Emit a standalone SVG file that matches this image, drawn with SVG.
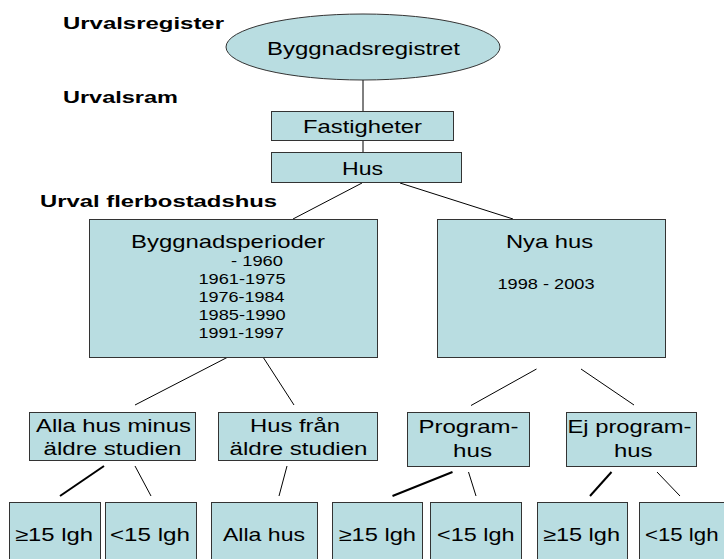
<svg xmlns="http://www.w3.org/2000/svg" width="724" height="559" viewBox="0 0 724 559">
<style>
text{font-family:"Liberation Sans",Arial,sans-serif;fill:#000}
.lbl{font-weight:bold;font-size:16.5px}
.n{font-size:18.5px}
.y{font-size:14.5px}
.box{fill:#b9dde1;stroke:#333;stroke-width:1}
.c{stroke:#000;stroke-width:1;fill:none}
.t{stroke:#000;stroke-width:2;fill:none}
</style>
<rect width="724" height="559" fill="#fff"/>
<g id="labels">
<text class="lbl" x="63" y="29" textLength="161" lengthAdjust="spacingAndGlyphs">Urvalsregister</text>
<text class="lbl" x="63" y="103" textLength="115" lengthAdjust="spacingAndGlyphs">Urvalsram</text>
<text class="lbl" x="40" y="206.5" textLength="237" lengthAdjust="spacingAndGlyphs">Urval flerbostadshus</text>
</g>
<g id="connectors">
<line class="c" x1="363" y1="80" x2="363" y2="111"/>
<line class="c" x1="363" y1="140" x2="363" y2="152"/>
<line class="c" x1="362" y1="183" x2="293" y2="219"/>
<line class="c" x1="400" y1="183" x2="513" y2="219"/>
<line class="c" x1="228" y1="357" x2="135" y2="405"/>
<line class="c" x1="263" y1="357" x2="294" y2="405"/>
<line class="c" x1="536.5" y1="369" x2="471" y2="405.5"/>
<line class="c" x1="581" y1="369" x2="634" y2="405"/>
<line class="t" x1="104" y1="466" x2="60" y2="496"/>
<line class="c" x1="135" y1="466" x2="151" y2="496"/>
<line class="c" x1="287" y1="466" x2="279" y2="496"/>
<line class="t" x1="452.5" y1="472" x2="392.5" y2="496"/>
<line class="c" x1="468.5" y1="472" x2="476" y2="496"/>
<line class="t" x1="611.5" y1="472" x2="590" y2="496"/>
<line class="c" x1="657" y1="472" x2="680" y2="496"/>
</g>
<g id="byggnadsregistret">
<ellipse class="box" cx="363" cy="47" rx="137" ry="33"/>
<text class="n" x="267" y="55" textLength="193" lengthAdjust="spacingAndGlyphs">Byggnadsregistret</text>
</g>
<g id="fastigheter">
<rect class="box" x="271.5" y="111.5" width="182" height="29"/>
<text class="n" x="303" y="133" textLength="119" lengthAdjust="spacingAndGlyphs">Fastigheter</text>
</g>
<g id="hus">
<rect class="box" x="271.5" y="152.5" width="190" height="30"/>
<text class="n" x="342" y="175" textLength="41" lengthAdjust="spacingAndGlyphs">Hus</text>
</g>
<g id="byggnadsperioder">
<rect class="box" x="89.5" y="219.5" width="288" height="138"/>
<text class="n" x="131" y="248" textLength="194" lengthAdjust="spacingAndGlyphs">Byggnadsperioder</text>
<text class="y" x="231" y="266" textLength="52" lengthAdjust="spacingAndGlyphs">- 1960</text>
<text class="y" x="198.5" y="284" textLength="87" lengthAdjust="spacingAndGlyphs">1961-1975</text>
<text class="y" x="198.5" y="302" textLength="86" lengthAdjust="spacingAndGlyphs">1976-1984</text>
<text class="y" x="198.5" y="320" textLength="87" lengthAdjust="spacingAndGlyphs">1985-1990</text>
<text class="y" x="198.5" y="338" textLength="85.5" lengthAdjust="spacingAndGlyphs">1991-1997</text>
</g>
<g id="nya-hus">
<rect class="box" x="437.5" y="219.5" width="228" height="138"/>
<text class="n" x="506" y="248" textLength="87" lengthAdjust="spacingAndGlyphs">Nya hus</text>
<text class="y" x="497.5" y="289" textLength="97" lengthAdjust="spacingAndGlyphs">1998 - 2003</text>
</g>
<g id="alla-hus-minus">
<rect class="box" x="29.5" y="412.5" width="166" height="48"/>
<text class="n" x="36" y="432" textLength="155" lengthAdjust="spacingAndGlyphs">Alla hus minus</text>
<text class="n" x="43.5" y="454.5" textLength="138" lengthAdjust="spacingAndGlyphs">äldre studien</text>
</g>
<g id="hus-fran">
<rect class="box" x="218.5" y="412.5" width="159" height="48"/>
<text class="n" x="250" y="432" textLength="90" lengthAdjust="spacingAndGlyphs">Hus från</text>
<text class="n" x="229.5" y="454.5" textLength="138" lengthAdjust="spacingAndGlyphs">äldre studien</text>
</g>
<g id="programhus">
<rect class="box" x="407.5" y="412.5" width="122" height="54"/>
<text class="n" x="418.5" y="433" textLength="100" lengthAdjust="spacingAndGlyphs">Program-</text>
<text class="n" x="453" y="457" textLength="39" lengthAdjust="spacingAndGlyphs">hus</text>
</g>
<g id="ej-programhus">
<rect class="box" x="566.5" y="412.5" width="130" height="54"/>
<text class="n" x="567.5" y="433" textLength="124" lengthAdjust="spacingAndGlyphs">Ej program-</text>
<text class="n" x="614" y="457" textLength="38.5" lengthAdjust="spacingAndGlyphs">hus</text>
</g>
<g id="b1">
<rect class="box" x="9.5" y="502.5" width="91" height="70"/>
<text class="n" x="15" y="540.5" textLength="78" lengthAdjust="spacingAndGlyphs">≥15 lgh</text>
</g>
<g id="b2">
<rect class="box" x="105.5" y="502.5" width="91" height="70"/>
<text class="n" x="110" y="540.5" textLength="80" lengthAdjust="spacingAndGlyphs">&lt;15 lgh</text>
</g>
<g id="b3">
<rect class="box" x="211.5" y="502.5" width="106" height="70"/>
<text class="n" x="223" y="540.5" textLength="82" lengthAdjust="spacingAndGlyphs">Alla hus</text>
</g>
<g id="b4">
<rect class="box" x="332.5" y="502.5" width="90" height="70"/>
<text class="n" x="338.5" y="540.5" textLength="77.5" lengthAdjust="spacingAndGlyphs">≥15 lgh</text>
</g>
<g id="b5">
<rect class="box" x="430.5" y="502.5" width="91" height="70"/>
<text class="n" x="437" y="540.5" textLength="77.5" lengthAdjust="spacingAndGlyphs">&lt;15 lgh</text>
</g>
<g id="b6">
<rect class="box" x="537.5" y="502.5" width="90" height="70"/>
<text class="n" x="543" y="540.5" textLength="77" lengthAdjust="spacingAndGlyphs">≥15 lgh</text>
</g>
<g id="b7">
<rect class="box" x="639.5" y="502.5" width="100" height="70"/>
<text class="n" x="645" y="540.5" textLength="73.5" lengthAdjust="spacingAndGlyphs">&lt;15 lgh</text>
</g>
</svg>
